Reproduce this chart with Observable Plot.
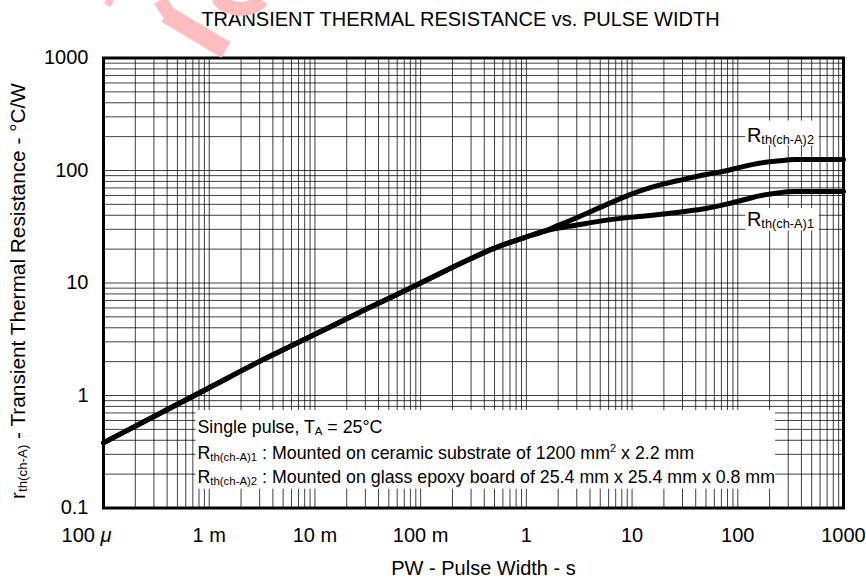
<!DOCTYPE html>
<html>
<head>
<meta charset="utf-8">
<script src="https://cdn.jsdelivr.net/npm/d3@7"></script>
<script src="https://cdn.jsdelivr.net/npm/@observablehq/plot@0.6"></script>
<style>
  html, body { margin: 0; padding: 0; background: #fff; overflow: hidden; }
  #wrap { position: relative; width: 866px; height: 581px; }
  #mark { position: absolute; left: 0; top: 0; pointer-events: none; }
</style>
</head>
<body>
<div id="wrap"></div>
<script>
// ---- data ----
const titleText = "TRANSIENT THERMAL RESISTANCE vs. PULSE WIDTH";
const xAxisTitle = "PW - Pulse Width - s";
const yAxisTitle = "r_{th(ch-A)} - Transient Thermal Resistance - °C/W";

const xTicks = [1e-4, 1e-3, 1e-2, 1e-1, 1, 10, 100, 1000];
const xTickLabels = ["100 ~{μ}", "1 m", "10 m", "100 m", "1", "10", "100", "1000"];
const yTicks = [0.1, 1, 10, 100, 1000];
const yTickLabels = ["0.1", "1", "10", "100", "1000"];

// common part of both curves (pulse width s, resistance °C/W)
const sharedPW = [1e-4, 3e-4, 1e-3, 3e-3, 1e-2, 3e-2, 0.1, 0.3, 0.5, 1, 1.5];
const sharedR  = [0.38, 0.651, 1.174, 2.01, 3.5, 5.8, 10, 16.5, 20.4, 25.7, 29];

// R th(ch-A)1 : ceramic substrate
const rth1PW = [2, 3, 5, 10, 20, 30, 50, 80, 120, 160, 250, 350, 500, 1000];
const rth1R  = [30.8, 32.8, 35.5, 38.5, 41, 43, 46, 50.5, 55.5, 59.5, 63.5, 65, 65, 65];

// R th(ch-A)2 : glass epoxy board
const rth2PW = [2, 3, 5, 7, 10, 20, 30, 50, 80, 120, 160, 250, 350, 500, 1000];
const rth2R  = [32.5, 38, 47, 54, 62, 76, 83, 92, 100, 110, 116, 122, 125, 125, 125];

const seriesNames = ["R_{th(ch-A)1}", "R_{th(ch-A)2}"];
const legendLines = [
  "Single pulse, T_{A} = 25°C",
  "R_{th(ch-A)1} : Mounted on ceramic substrate of 1200 mm^{2} x 2.2 mm",
  "R_{th(ch-A)2} : Mounted on glass epoxy board of 25.4 mm x 25.4 mm x 0.8 mm"
];

// ---- build tables ----
const rows = [];
function addSeries(name, pw, r) { pw.forEach((p, i) => rows.push({series: name, pw: p, r: r[i]})); }
addSeries("1", sharedPW.concat(rth1PW), sharedR.concat(rth1R));
addSeries("2", sharedPW.concat(rth2PW), sharedR.concat(rth2R));

const gridX = [];
for (let e = -4; e <= 2; e++) for (let m = 1; m <= 9; m++) gridX.push(m * Math.pow(10, e));
gridX.push(1000);
const gridY = [];
for (let e = -1; e <= 2; e++) for (let m = 1; m <= 9; m++) gridY.push(m * Math.pow(10, e));
gridY.push(1000);

const xLabelMap = new Map(xTicks.map((t, i) => [t, xTickLabels[i]]));
const yLabelMap = new Map(yTicks.map((t, i) => [t, yTickLabels[i]]));

const FONT = "'Liberation Sans', Arial, Helvetica, sans-serif";

const chart = Plot.plot({
  width: 866,
  height: 581,
  marginLeft: 103,
  marginRight: 23,
  marginTop: 57.5,
  marginBottom: 73.5,
  style: {fontFamily: FONT, fontSize: "20px", background: "#fff", color: "#000"},
  x: {type: "log", domain: [1e-4, 1000]},
  y: {type: "log", domain: [0.1, 1000]},
  marks: [
    Plot.ruleX(gridX, {x: d => d, stroke: "#000", strokeOpacity: 0.75, strokeWidth: 1}),
    Plot.ruleY(gridY, {y: d => d, stroke: "#000", strokeOpacity: 0.75, strokeWidth: 1}),
    // legend box
    Plot.rect([0], {x1: 7.5e-4, x2: 228, y1: 0.147, y2: 0.735, fill: "#fff"}),
    // label boxes
    Plot.rect([0], {x1: 119, x2: 590, y1: 166, y2: 275, fill: "#fff"}),
    Plot.rect([0], {x1: 119, x2: 590, y1: 29, y2: 46, fill: "#fff"}),
    Plot.line(rows, {x: "pw", y: "r", z: "series", stroke: "#000", strokeWidth: 5, curve: "monotone-x", strokeLinejoin: "round"}),
    Plot.text([seriesNames[1]], {x: 122, y: 178, textAnchor: "start", lineAnchor: "bottom", fontSize: 20}),
    Plot.text([seriesNames[0]], {x: 122, y: 31.8, textAnchor: "start", lineAnchor: "bottom", fontSize: 20}),
    Plot.text([legendLines[0]], {frameAnchor: "bottom-left", dx: 94, dy: -75, textAnchor: "start", lineAnchor: "bottom", fontSize: 17.8}),
    Plot.text([legendLines[1]], {frameAnchor: "bottom-left", dx: 94, dy: -49.5, textAnchor: "start", lineAnchor: "bottom", fontSize: 17.8}),
    Plot.text([legendLines[2]], {frameAnchor: "bottom-left", dx: 94, dy: -25.5, textAnchor: "start", lineAnchor: "bottom", fontSize: 17.8}),
    Plot.frame({stroke: "#000", strokeWidth: 3}),
    Plot.axisY(yTicks, {tickSize: 0, tickPadding: 15, tickFormat: d => yLabelMap.get(d), fontSize: 20, label: null}),
    Plot.axisX(xTicks.slice(1), {tickSize: 0, tickPadding: 20, tickFormat: d => xLabelMap.get(d), fontSize: 20, label: null}),
    Plot.text([xTicks[0]], {x: d => d, frameAnchor: "bottom", dx: 8, dy: 20, textAnchor: "end", lineAnchor: "top", text: d => xLabelMap.get(d), fontSize: 20}),
    Plot.text([titleText], {frameAnchor: "top", dx: -13, dy: -32.5, lineAnchor: "bottom", fontSize: 20}),
    Plot.text([xAxisTitle], {frameAnchor: "bottom", dx: 10, dy: 67, lineAnchor: "bottom", fontSize: 20}),
    Plot.text([yAxisTitle], {frameAnchor: "left", dx: -85, dy: 8, rotate: -90, textAnchor: "middle", fontSize: 20.8})
  ]
});

// rich text: _{sub}, ^{sup}, ~{italic}
function richify(el) {
  const s = el.textContent;
  if (!/[_^~]\{/.test(s)) return;
  const re = /([_^~])\{([^}]*)\}/g;
  let last = 0, m, shift = 0;
  while (el.firstChild) el.removeChild(el.firstChild);
  const add = (txt, opts) => {
    const t = document.createElementNS("http://www.w3.org/2000/svg", "tspan");
    t.textContent = txt;
    if (opts.size) t.setAttribute("font-size", opts.size);
    if (opts.italic) t.setAttribute("font-style", "italic");
    if (opts.dy) t.setAttribute("dy", opts.dy);
    el.appendChild(t);
  };
  while ((m = re.exec(s))) {
    if (m.index > last) { add(s.slice(last, m.index), {dy: shift ? -shift : null}); shift = 0; }
    if (m[1] === "_") { add(m[2], {size: "0.64em", dy: 2 - shift}); shift = 2; }
    else if (m[1] === "^") { add(m[2], {size: "0.62em", dy: -7 - shift}); shift = -7; }
    else { add(m[2], {italic: true, dy: shift ? -shift : null}); shift = 0; }
    last = re.lastIndex;
  }
  if (last < s.length) add(s.slice(last), {dy: shift ? -shift : null});
}
d3.select(chart).selectAll("text").each(function () { richify(this); });

document.getElementById("wrap").appendChild(chart);

// faint watermark fragment at top-left of the reference
const ns = "http://www.w3.org/2000/svg";
const wm = document.createElementNS(ns, "svg");
wm.setAttribute("id", "mark");
wm.setAttribute("width", "866");
wm.setAttribute("height", "60");
wm.innerHTML = `
  <g fill="none" stroke="#ffbdbd">
    <line x1="166" y1="14" x2="226" y2="50" stroke-width="18"/>
    <line x1="160" y1="0" x2="172" y2="18" stroke-width="14"/>
    <path d="M 218 -2 A 24 16 0 0 0 262 0" stroke-width="14"/>
    <line x1="106" y1="0" x2="112" y2="4" stroke-width="7"/>
  </g>`;
document.getElementById("wrap").appendChild(wm);
</script>
</body>
</html>
